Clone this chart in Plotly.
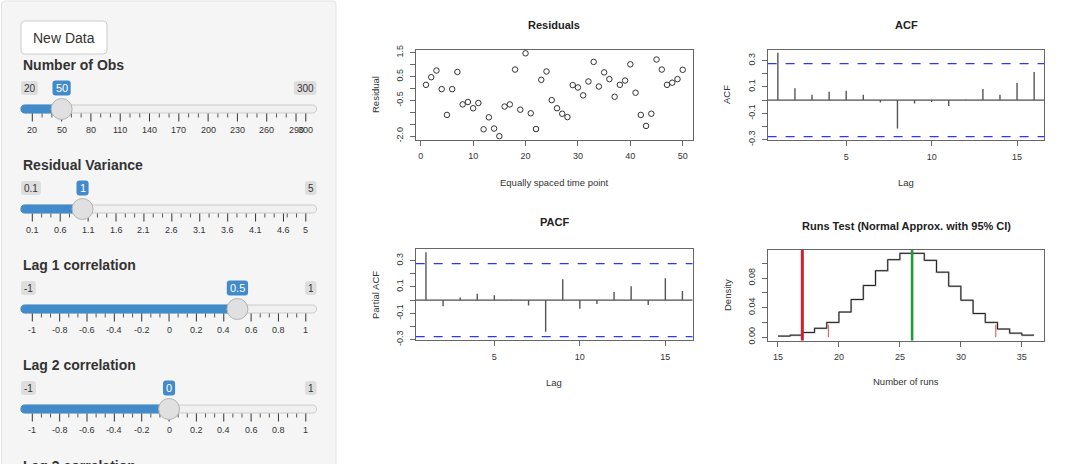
import plotly.graph_objects as go

W, H = 1065, 464

# ---------------- data ----------------
resid_time = list(range(1, 51))
resid_values = [0.15, 0.47, 0.75, -0.03, -1.11, -0.03, 0.69, -0.67, -0.57, -0.83,
                -0.61, -1.71, -1.21, -1.68, -2.00, -0.76, -0.67, 0.79, -0.89, 1.47,
                -1.04, -1.70, 0.36, 0.71, -0.49, -0.83, -1.06, -1.20, 0.14, 0.04,
                -0.29, 0.29, 1.11, 0.08, 0.67, 0.39, -0.35, 0.15, 0.33, 1.01,
                -0.18, -1.11, -1.57, -1.06, 1.21, 0.79, 0.15, 0.24, 0.39, 0.78]
lags = list(range(1, 17))
acf_values = [0.358, 0.090, 0.040, 0.063, 0.070, 0.040, -0.018, -0.216,
              -0.025, -0.015, -0.045, 0.002, 0.085, 0.040, 0.130, 0.213]
pacf_values = [0.362, -0.046, 0.020, 0.048, 0.036, 0.002, -0.040, -0.240,
               0.158, -0.066, -0.030, 0.061, 0.105, -0.038, 0.166, 0.069]
ci_limit = 0.277
runs_x = list(range(15, 37))
runs_density = [0.0014, 0.0027, 0.0063, 0.012, 0.020, 0.034, 0.051, 0.070, 0.090,
                0.105, 0.1135, 0.1135, 0.104, 0.088, 0.069, 0.050, 0.032, 0.020,
                0.011, 0.0054, 0.0027, 0.0027]
observed_runs = 17
expected_runs = 26
runs_ci = [19.14, 32.86]
runs_ci_density = 0.0167

# sidebar inputs
slider_titles = ["Number of Obs", "Residual Variance", "Lag 1 correlation", "Lag 2 correlation"]
slider_min = [20, 0.1, -1, -1]
slider_max = [300, 5, 1, 1]
slider_value = [50, 1, 0.5, 0]
slider_min_text = ["20", "0.1", "-1", "-1"]
slider_max_text = ["300", "5", "1", "1"]
slider_value_text = ["50", "1", "0.5", "0"]
slider_ticks = [
    [20, 50, 80, 110, 140, 170, 200, 230, 260, 290, 300],
    [0.1, 0.6, 1.1, 1.6, 2.1, 2.6, 3.1, 3.6, 4.1, 4.6, 5],
    [-1, -0.8, -0.6, -0.4, -0.2, 0, 0.2, 0.4, 0.6, 0.8, 1],
    [-1, -0.8, -0.6, -0.4, -0.2, 0, 0.2, 0.4, 0.6, 0.8, 1],
]
slider_tick_text = [
    ["20", "50", "80", "110", "140", "170", "200", "230", "260", "290", "300"],
    ["0.1", "0.6", "1.1", "1.6", "2.1", "2.6", "3.1", "3.6", "4.1", "4.6", "5"],
    ["-1", "-0.8", "-0.6", "-0.4", "-0.2", "0", "0.2", "0.4", "0.6", "0.8", "1"],
    ["-1", "-0.8", "-0.6", "-0.4", "-0.2", "0", "0.2", "0.4", "0.6", "0.8", "1"],
]
next_title = "Lag 3 correlation"
button_text = "New Data"

# ---------------- helpers ----------------
def X(p):
    return p / W

def Y(p):
    return 1 - p / H

def rrect(x0, y0, x1, y1, r, fill, line, lw=1):
    pts = [("M", x0 + r, y0), ("L", x1 - r, y0), ("Q", x1, y0, x1, y0 + r),
           ("L", x1, y1 - r), ("Q", x1, y1, x1 - r, y1), ("L", x0 + r, y1),
           ("Q", x0, y1, x0, y1 - r), ("L", x0, y0 + r), ("Q", x0, y0, x0 + r, y0)]
    s = ""
    for p in pts:
        cmd = p[0]
        coords = p[1:]
        pairs = []
        for i in range(0, len(coords), 2):
            pairs.append(f"{X(coords[i]):.6f},{Y(coords[i+1]):.6f}")
        s += cmd + " " + " ".join(pairs) + " "
    s += "Z"
    return dict(type="path", path=s, xref="paper", yref="paper", fillcolor=fill,
                line=dict(color=line, width=lw))

def line_px(x0, y0, x1, y1, color, width=1, dash="solid"):
    return dict(type="line", xref="paper", yref="paper", x0=X(x0), y0=Y(y0), x1=X(x1), y1=Y(y1),
                line=dict(color=color, width=width, dash=dash))

def text_px(x, y, t, size, color="#333", bold=False, xanchor="center", family="Liberation Sans, Arial, sans-serif", angle=0):
    txt = f"<b>{t}</b>" if bold else t
    return dict(x=X(x), y=Y(y), xref="paper", yref="paper", text=txt, showarrow=False,
                xanchor=xanchor, yanchor="middle", textangle=angle,
                font=dict(size=size, color=color, family=family))

def r_range(vals):
    lo, hi = min(vals), max(vals)
    pad = 0.04 * (hi - lo)
    return [lo - pad, hi + pad]

def est_width(t, size):
    w = 0
    for c in t:
        if c == ".":
            w += 0.278
        elif c == "-":
            w += 0.333
        else:
            w += 0.556
    return w * size

shapes = []
annotations = []
SF = "Helvetica Neue, Helvetica, Liberation Sans, Arial, sans-serif"

# ---------------- sidebar ----------------
shapes.append(rrect(1.5, 1, 336, 490, 4, "#f5f5f5", "#e3e3e3"))
shapes.append(rrect(21, 21, 107, 54, 4, "#ffffff", "#cccccc"))
annotations.append(text_px(64, 38, button_text, 14, "#333", family=SF))

track_x0, track_x1 = 21, 316.5
hx0, hx1 = track_x0 + 11.3, track_x1 - 10.7
block_tops = [65, 165, 265, 365]

for i in range(4):
    top = block_tops[i]
    vmin, vmax = slider_min[i], slider_max[i]
    pos = lambda v: hx0 + (v - vmin) / (vmax - vmin) * (hx1 - hx0)
    annotations.append(text_px(21, top, slider_titles[i], 14, "#333", bold=True, xanchor="left", family=SF))
    # min / max labels
    my = top + 23
    w = est_width(slider_min_text[i], 10) + 6
    shapes.append(rrect(track_x0, my - 7, track_x0 + w, my + 7, 3, "#dedede", "#dedede", 0))
    annotations.append(text_px(track_x0 + w / 2, my, slider_min_text[i], 10, "#333", family=SF))
    w = est_width(slider_max_text[i], 10) + 6
    shapes.append(rrect(track_x1 - w, my - 7, track_x1, my + 7, 3, "#dedede", "#dedede", 0))
    annotations.append(text_px(track_x1 - w / 2, my, slider_max_text[i], 10, "#333", family=SF))
    # track
    ty = top + 44
    hv = pos(slider_value[i])
    shapes.append(rrect(track_x0, ty - 4, track_x1, ty + 4, 4, "#f0f0f0", "#cccccc"))
    shapes.append(rrect(track_x0, ty - 4, hv, ty + 4, 4, "#428bca", "#428bca"))
    # grid ticks
    ticks = slider_ticks[i]
    gy = ty + 4.5
    for k, tv in enumerate(ticks):
        tx = pos(tv)
        shapes.append(line_px(tx, gy, tx, gy + 8, "#333", 1))
        annotations.append(text_px(tx, top + 65, slider_tick_text[i][k], 9, "#333", family=SF))
    step_px = pos(ticks[1]) - pos(ticks[0])
    for k in range(1, len(ticks)):
        b = pos(ticks[k])
        a = pos(ticks[k - 1])
        for z in (1, 2):
            sx = b - step_px / 3 * z
            if sx > a + 1:
                shapes.append(line_px(sx, gy, sx, gy + 4, "#555", 1))
    # handle
    shapes.append(dict(type="circle", xref="paper", yref="paper",
                       x0=X(hv - 10.5), x1=X(hv + 10.5), y0=Y(ty + 10.5), y1=Y(ty - 10.5),
                       fillcolor="#e0e0e0", line=dict(color="#b3b3b3", width=1)))
    # value label
    w = est_width(slider_value_text[i], 11) + 6
    shapes.append(rrect(hv - w / 2, my - 7.5, hv + w / 2, my + 7.5, 3, "#428bca", "#428bca", 0))
    annotations.append(text_px(hv, my, slider_value_text[i], 11, "#ffffff", family=SF))

annotations.append(text_px(21, 466, next_title, 14, "#333", bold=True, xanchor="left", family=SF))

# ---------------- plots ----------------
PF = "Liberation Sans, Arial, sans-serif"
TXT = "#333"
BOX = "#666"
BLUE = "#3333ff"

fig = go.Figure()

fig.add_trace(go.Scatter(x=resid_time, y=resid_values, mode="markers", xaxis="x", yaxis="y",
                         marker=dict(symbol="circle-open", size=5.5, color="#333", line=dict(width=1)),
                         showlegend=False, hoverinfo="skip"))

def spikes(vals):
    xs, ys = [], []
    for l, v in zip(lags, vals):
        xs += [l, l, None]
        ys += [0, v, None]
    return xs, ys

lag_range = r_range(lags)
for k, vals in (("2", acf_values), ("3", pacf_values)):
    # zero line and confidence bounds spanning the full axis range
    fig.add_trace(go.Scatter(x=lag_range, y=[0, 0], mode="lines", xaxis="x" + k, yaxis="y" + k,
                             line=dict(color="#222", width=1), showlegend=False, hoverinfo="skip"))
    for s in (1, -1):
        fig.add_trace(go.Scatter(x=lag_range, y=[s * ci_limit, s * ci_limit], mode="lines",
                                 xaxis="x" + k, yaxis="y" + k,
                                 line=dict(color=BLUE, width=1.3, dash="dash"),
                                 showlegend=False, hoverinfo="skip"))
    sx, sy = spikes(vals)
    fig.add_trace(go.Scatter(x=sx, y=sy, mode="lines", xaxis="x" + k, yaxis="y" + k,
                             line=dict(color="#555", width=1.4), showlegend=False, hoverinfo="skip"))

fig.add_trace(go.Scatter(x=runs_x, y=runs_density, mode="lines", xaxis="x4", yaxis="y4",
                         line=dict(color="#bbbbbb", width=2, shape="hv"), showlegend=False, hoverinfo="skip"))
fig.add_trace(go.Scatter(x=runs_x, y=runs_density, mode="lines", xaxis="x4", yaxis="y4",
                         line=dict(color="#222", width=1, shape="hv"), showlegend=False, hoverinfo="skip"))
for cx in runs_ci:
    fig.add_trace(go.Scatter(x=[cx, cx], y=[0, runs_ci_density], mode="lines", xaxis="x4", yaxis="y4",
                             line=dict(color="#e06a6a", width=1.2), showlegend=False, hoverinfo="skip"))

shapes.append(dict(type="line", xref="x4", yref="y4 domain", x0=observed_runs, x1=observed_runs, y0=0, y1=1,
                   line=dict(color="#cc2233", width=3)))
shapes.append(dict(type="line", xref="x4", yref="y4 domain", x0=expected_runs, x1=expected_runs, y0=0, y1=1,
                   line=dict(color="#22993a", width=2.6)))

def axis_common(dom, rng, tickvals, ticktext, is_y=False):
    d = dict(domain=dom, range=rng, tickvals=tickvals, ticktext=ticktext, showline=True, mirror=True,
             linecolor=BOX, linewidth=1.2, ticks="outside", ticklen=5, tickcolor=BOX, tickwidth=1,
             showgrid=False, zeroline=False, tickfont=dict(family=PF, size=9, color=TXT), fixedrange=True,
             automargin=False)
    if is_y:
        d["tickangle"] = -90
        d["ticklabelstandoff"] = 3
    else:
        d["ticklabelstandoff"] = 3
    return d

doms = {
    "1": ([415.7, 693], [50, 139.5]),
    "2": ([767.6, 1044.4], [49.5, 140]),
    "3": ([415.7, 692.7], [249, 340]),
    "4": ([767.7, 1044.3], [250, 340.5]),
}
def xd(k):
    a, b = doms[k][0]
    return [X(a), X(b)]
def yd(k):
    a, b = doms[k][1]
    return [Y(b), Y(a)]

acf_ticks = [-0.3, -0.2, -0.1, 0, 0.1, 0.2, 0.3]
acf_tt = ["-0.3", "", "-0.1", "", "0.1", "", "0.3"]
layout = dict(
    xaxis=axis_common(xd("1"), r_range(resid_time), [0, 10, 20, 30, 40, 50], ["0", "10", "20", "30", "40", "50"]),
    yaxis=axis_common(yd("1"), r_range(resid_values), [-2, -1.5, -1, -0.5, 0, 0.5, 1, 1.5],
                      ["-2.0", "", "", "-0.5", "", "0.5", "", "1.5"], True),
    xaxis2=axis_common(xd("2"), lag_range, [5, 10, 15], ["5", "10", "15"]),
    yaxis2=axis_common(yd("2"), r_range(acf_values + [ci_limit, -ci_limit]), acf_ticks, acf_tt, True),
    xaxis3=axis_common(xd("3"), lag_range, [5, 10, 15], ["5", "10", "15"]),
    yaxis3=axis_common(yd("3"), r_range(pacf_values + [ci_limit, -ci_limit]), acf_ticks, acf_tt, True),
    xaxis4=axis_common(xd("4"), r_range(runs_x), [15, 20, 25, 30, 35], ["15", "20", "25", "30", "35"]),
    yaxis4=axis_common(yd("4"), r_range([0] + runs_density), [0, 0.02, 0.04, 0.06, 0.08, 0.10],
                       ["0.00", "", "0.04", "", "0.08", ""], True),
)
for k in ("", "2", "3", "4"):
    layout["xaxis" + k]["anchor"] = "y" + k
    layout["yaxis" + k]["anchor"] = "x" + k

# titles and axis labels
annotations.append(text_px(554, 25.5, "Residuals", 11, "#222", bold=True, family=PF))
annotations.append(text_px(906, 25.5, "ACF", 11, "#222", bold=True, family=PF))
annotations.append(text_px(554, 222, "PACF", 11, "#222", bold=True, family=PF))
annotations.append(text_px(906, 226, "Runs Test (Normal Approx. with 95% CI)", 11, "#222", bold=True, family=PF))
annotations.append(text_px(554, 182.5, "Equally spaced time point", 9.5, TXT, family=PF))
annotations.append(text_px(906, 182.5, "Lag", 9.5, TXT, family=PF))
annotations.append(text_px(554, 382, "Lag", 9.5, TXT, family=PF))
annotations.append(text_px(906, 381.5, "Number of runs", 9.5, TXT, family=PF))
annotations.append(text_px(375, 95, "Residual", 9.5, TXT, family=PF, angle=-90))
annotations.append(text_px(726, 95, "ACF", 9.5, TXT, family=PF, angle=-90))
annotations.append(text_px(375, 295, "Partial ACF", 9.5, TXT, family=PF, angle=-90))
annotations.append(text_px(727, 295, "Density", 9.5, TXT, family=PF, angle=-90))

fig.update_layout(width=W, height=H, margin=dict(l=0, r=0, t=0, b=0, pad=0, autoexpand=False),
                  autosize=False,
                  paper_bgcolor="white", plot_bgcolor="white",
                  shapes=shapes, annotations=annotations, showlegend=False, **layout)

fig.write_html("out.html", config={"displayModeBar": False},
               post_script="document.body.style.margin='0';document.body.style.overflow='hidden';")
